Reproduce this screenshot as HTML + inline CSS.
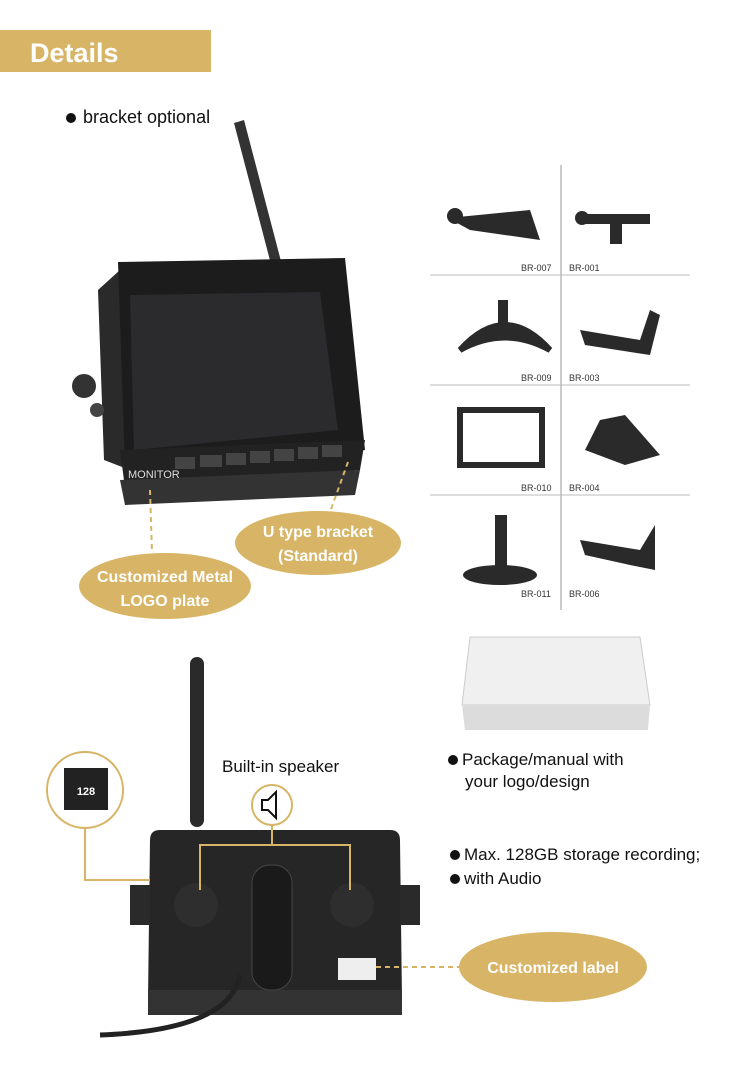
<!DOCTYPE html>
<html><head><meta charset="utf-8"><style>
body{margin:0;width:750px;height:1080px;background:#fff;overflow:hidden;font-family:"Liberation Sans",sans-serif;}
</style></head><body>
<svg width="750" height="1080" viewBox="0 0 750 1080" xmlns="http://www.w3.org/2000/svg" font-family="Liberation Sans, sans-serif">
<rect x="0" y="30" width="211" height="42" fill="#d8b566"/>
<text x="30" y="62" font-size="27" font-weight="bold" fill="#fff">Details</text>
<circle cx="71" cy="118" r="5" fill="#111"/>
<text x="83" y="123" font-size="18" fill="#111">bracket optional</text>

<!-- front monitor -->
<path d="M234 123 L244 120 L282 265 L272 268 Z" fill="#333"/>
<path d="M98 290 L120 270 L130 470 L104 460 Z" fill="#2a2a2a"/>
<circle cx="84" cy="386" r="12" fill="#333"/><circle cx="97" cy="410" r="7" fill="#444"/>
<path d="M118 262 L345 258 L365 450 L125 468 Z" fill="#1c1c1c"/>
<path d="M130 295 L320 292 L338 430 L134 450 Z" fill="#2b2b2e"/>
<path d="M120 450 L365 440 L360 470 L125 488 Z" fill="#222"/>
<path d="M120 480 L360 470 L355 495 L125 505 Z" fill="#333"/>
<text x="128" y="478" font-size="11" fill="#ddd">MONITOR</text>
<g fill="#444"><rect x="175" y="457" width="20" height="12"/><rect x="200" y="455" width="22" height="12"/><rect x="226" y="453" width="20" height="12"/><rect x="250" y="451" width="20" height="12"/><rect x="274" y="449" width="20" height="12"/><rect x="298" y="447" width="20" height="12"/><rect x="322" y="445" width="20" height="12"/></g>
<line x1="150" y1="490" x2="152" y2="553" stroke="#d8b566" stroke-width="2" stroke-dasharray="5,4"/>
<line x1="348" y1="462" x2="330" y2="512" stroke="#d8b566" stroke-width="2" stroke-dasharray="5,4"/>
<ellipse cx="318" cy="543" rx="83" ry="32" fill="#d8b566"/>
<text x="318" y="537" font-size="16" font-weight="bold" fill="#fff" text-anchor="middle">U type bracket</text>
<text x="318" y="561" font-size="16" font-weight="bold" fill="#fff" text-anchor="middle">(Standard)</text>
<ellipse cx="165" cy="586" rx="86" ry="33" fill="#d8b566"/>
<text x="165" y="582" font-size="16" font-weight="bold" fill="#fff" text-anchor="middle">Customized Metal</text>
<text x="165" y="606" font-size="16" font-weight="bold" fill="#fff" text-anchor="middle">LOGO plate</text>

<!-- bracket grid -->
<line x1="561" y1="165" x2="561" y2="610" stroke="#999"/>
<g stroke="#bbb"><line x1="430" y1="275" x2="690" y2="275"/><line x1="430" y1="385" x2="690" y2="385"/><line x1="430" y1="495" x2="690" y2="495"/></g>
<g font-size="9" fill="#333"><text x="521" y="271">BR-007</text><text x="569" y="271">BR-001</text><text x="521" y="381">BR-009</text><text x="569" y="381">BR-003</text><text x="521" y="491">BR-010</text><text x="569" y="491">BR-004</text><text x="521" y="597">BR-011</text><text x="569" y="597">BR-006</text></g>
<g fill="#2a2a2a">
<path d="M448 218 L530 210 L540 240 L470 230 Z"/><circle cx="455" cy="216" r="8"/>
<rect x="580" y="214" width="70" height="10"/><rect x="610" y="224" width="12" height="20"/><circle cx="582" cy="218" r="7"/>
<path d="M460 350 Q505 300 550 350 Q505 325 460 350 Z" stroke="#2a2a2a" stroke-width="6"/><rect x="498" y="300" width="10" height="35"/>
<path d="M580 330 L640 340 L650 310 L660 315 L650 355 L585 345 Z"/>
<rect x="460" y="410" width="82" height="55" fill="none" stroke="#2a2a2a" stroke-width="6"/>
<path d="M585 450 L600 420 L625 415 L660 455 L625 465 Z"/>
<ellipse cx="500" cy="575" rx="37" ry="10"/><rect x="495" y="515" width="12" height="55"/>
<path d="M580 540 L640 550 L655 525 L655 570 L630 565 L585 555 Z"/>
</g>

<!-- package -->
<path d="M470 637 L640 637 L650 705 L462 705 Z" fill="#f0f0f0" stroke="#ccc"/>
<path d="M462 705 L650 705 L648 730 L465 730 Z" fill="#dcdcdc"/>
<circle cx="453" cy="760" r="5" fill="#111"/>
<text x="462" y="765" font-size="17" fill="#111">Package/manual with</text>
<text x="465" y="787" font-size="17" fill="#111">your logo/design</text>
<circle cx="455" cy="855" r="5" fill="#111"/>
<text x="464" y="860" font-size="17" fill="#111">Max. 128GB storage recording;</text>
<circle cx="455" cy="879" r="5" fill="#111"/>
<text x="464" y="884" font-size="17" fill="#111">with Audio</text>

<!-- back monitor -->
<rect x="190" y="657" width="14" height="170" rx="7" fill="#2a2a2a"/>
<circle cx="85" cy="790" r="38" fill="#fff" stroke="#d8b566" stroke-width="2"/>
<rect x="64" y="768" width="44" height="42" fill="#222"/>
<text x="86" y="795" font-size="11" fill="#fff" text-anchor="middle" font-weight="bold">128</text>
<text x="222" y="772" font-size="17" fill="#111">Built-in speaker</text>
<circle cx="272" cy="805" r="20" fill="#fff" stroke="#d8b566" stroke-width="2"/>
<path d="M262 800 h6 l8 -8 v26 l-8 -8 h-6 Z" fill="none" stroke="#111" stroke-width="2"/>
<path d="M150 840 Q150 830 160 830 L390 830 Q400 830 400 840 L402 1000 L148 1000 Z" fill="#262626"/>
<rect x="130" y="885" width="20" height="40" fill="#2a2a2a"/><rect x="400" y="885" width="20" height="40" fill="#2a2a2a"/>
<rect x="148" y="990" width="254" height="25" fill="#333"/>
<rect x="252" y="865" width="40" height="125" rx="18" fill="#1a1a1a" stroke="#444"/>
<circle cx="196" cy="905" r="22" fill="#2e2e2e"/><circle cx="352" cy="905" r="22" fill="#2e2e2e"/>
<rect x="338" y="958" width="38" height="22" fill="#eee"/>
<path d="M240 975 Q230 1030 100 1035" stroke="#222" stroke-width="5" fill="none"/>
<g stroke="#d8b566" stroke-width="2" fill="none">
<polyline points="85,828 85,880 150,880"/>
<polyline points="272,825 272,845 200,845 200,890"/>
<polyline points="272,845 350,845 350,890"/>
<line x1="376" y1="967" x2="460" y2="967" stroke-dasharray="5,4"/>
</g>
<ellipse cx="553" cy="967" rx="94" ry="35" fill="#d8b566"/>
<text x="553" y="973" font-size="16" font-weight="bold" fill="#fff" text-anchor="middle">Customized label</text>
</svg>
</body></html>
